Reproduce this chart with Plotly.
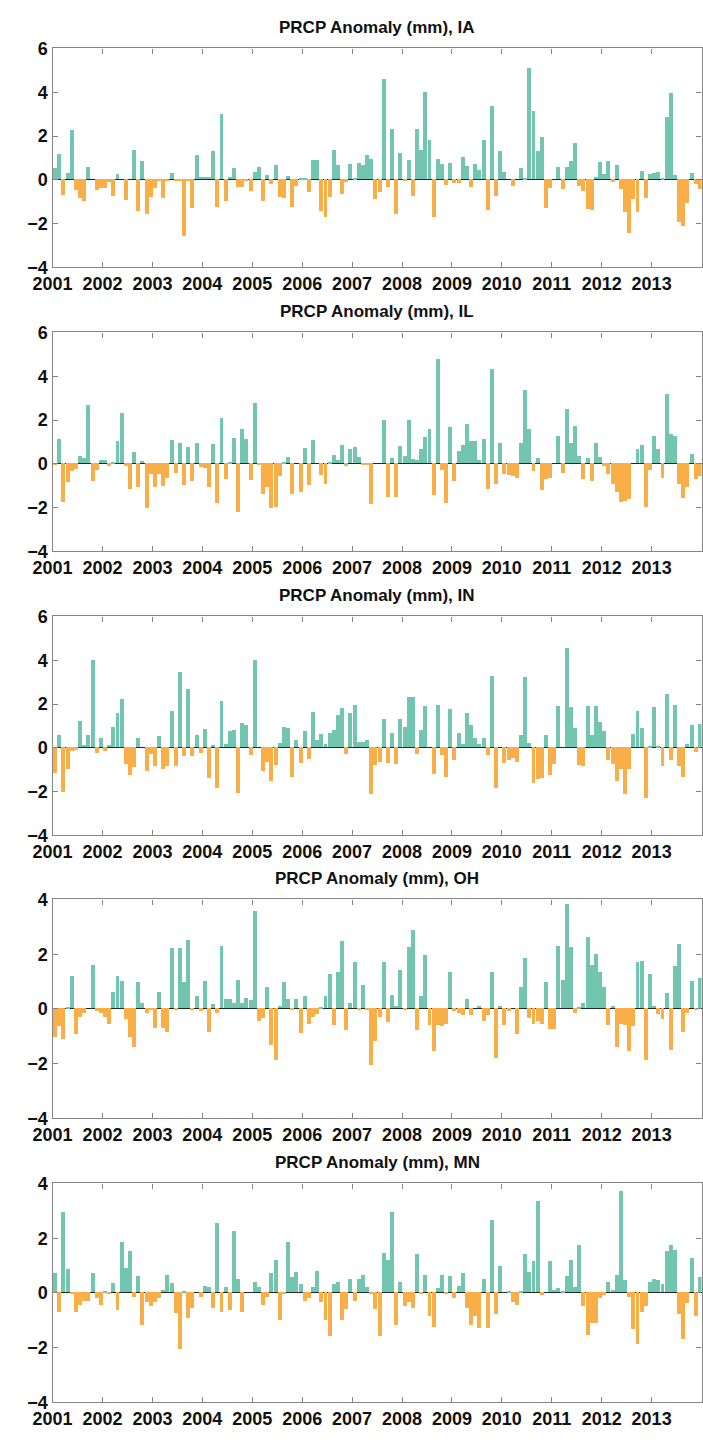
import plotly.graph_objects as go

# ---------------- data (monthly precipitation anomaly, mm) ----------------
years = list(range(2001, 2014))
year_labels = [str(y) for y in years]
states = ["IA", "IL", "IN", "OH", "MN"]

IA = [
    0.5, 1.15, -0.7, 0.3, 2.25, -0.5, -0.85, -1.0, 0.55, 0.0, -0.5, -0.4,
    -0.4, -0.1, -0.75, 0.25, 0.0, -0.95, 0.0, 1.35, -1.45, 0.85, -1.6, -0.8,
    -0.4, -0.05, -0.85, -0.05, 0.3, -0.05, -0.05, -2.6, -0.05, -1.3, 1.1, 0.1,
    0.1, 0.1, 1.3, -1.25, 3.0, -1.0, 0.1, 0.5, -0.35, -0.35, -0.05, -0.55,
    0.35, 0.55, -1.0, 0.2, -0.2, 0.65, -0.8, -0.85, 0.15, -1.25, -0.3, 0.05,
    0.05, -0.6, 0.9, 0.9, -1.45, -1.7, -0.8, 1.35, 0.65, -0.65, -0.1, 0.7,
    0.05, 0.75, 0.65, 1.1, 0.95, -0.9, -0.6, 4.6, -0.35, 2.3, -1.6, 1.2,
    -0.05, 0.9, -0.75, 2.3, 1.35, 4.0, 1.8, -1.7, 0.95, 0.7, -0.25, 0.75,
    -0.15, -0.15, 1.0, 0.6, -0.35, 0.7, 0.45, 1.8, -1.4, 3.35, -0.75, 1.3,
    0.35, 0.0, -0.3, 0.0, 0.5, 0.05, 5.1, 3.1, 1.3, 1.95, -1.3, -0.4,
    0.0, 0.55, -0.45, 0.55, 0.85, 1.65, -0.3, -0.55, -1.35, -1.4, 0.1, 0.8,
    0.25, 0.85, -0.1, 0.65, -0.45, -1.5, -2.45, -0.9, -1.5, 0.4, -0.85, 0.25,
    0.3, 0.35, 0.05, 2.85, 3.95, 0.2, -1.95, -2.15, -1.1, 0.3, -0.2, -0.45,
]

IL = [
    -0.05, 1.1, -1.75, -0.85, -0.35, -0.25, 0.35, 0.25, 2.65, -0.8, -0.3, 0.15,
    0.15, -0.1, 0.05, 1.0, 2.3, -0.1, -1.15, 0.5, -1.1, 0.1, -2.05, -0.5,
    -1.1, -0.5, -1.05, -0.65, 1.05, -0.45, 0.95, -1.0, 0.75, -0.8, 0.95, -0.15,
    -0.2, -1.1, 0.9, -1.8, 2.05, -0.7, 0.05, 1.15, -2.2, 1.55, 1.1, -0.75,
    2.75, -0.05, -1.4, -1.1, -2.05, -2.0, -0.6, 0.05, 0.3, -1.4, 0.0, -1.3,
    0.7, -1.0, 1.05, 0.0, -0.55, -0.95, 0.05, 0.4, 0.15, 0.85, -0.1, 0.65,
    0.75, 0.3, -0.05, -0.05, -1.85, 0.0, 0.0, 2.0, -1.55, 0.25, -1.55, 0.8,
    0.35, 2.0, 0.2, 0.15, 0.65, 1.2, 1.55, -1.45, 4.75, -0.3, -1.8, 1.65,
    -0.8, 0.55, 0.85, 1.8, 1.0, 1.0, 0.15, 1.1, -1.15, 4.3, -0.95, 0.95,
    -0.5, -0.55, -0.6, -0.65, 0.95, 3.35, 1.55, -0.35, 0.25, -1.2, -0.7, -0.65,
    0.0, 1.25, -0.45, 2.5, 0.95, 1.7, 0.35, -0.7, 0.25, -0.8, 0.95, 0.3,
    -0.1, -0.5, -0.95, -1.3, -1.75, -1.7, -1.65, 0.0, 0.65, 0.85, -2.0, -0.3,
    1.25, 0.65, -0.65, 3.15, 1.35, 1.25, -0.95, -1.6, -1.1, 0.45, -0.7, -0.6,
]

IN = [
    -1.15, 0.55, -2.05, -1.0, -0.15, -0.1, 1.2, 0.1, 0.55, 4.0, -0.25, 0.45,
    -0.15, 0.1, 0.95, 1.55, 2.2, -0.75, -1.25, -0.9, 0.45, 0.0, -1.1, -0.3,
    -0.85, 0.5, -1.0, -0.85, 1.65, -0.85, 3.45, -0.4, 2.65, -0.4, 0.55, -0.25,
    0.85, -1.4, 0.1, -1.85, 2.1, 0.15, 0.75, 0.8, -2.1, 1.1, 1.0, -0.35,
    4.0, 0.0, -1.1, -0.65, -1.55, -0.8, 0.2, 0.95, 0.9, -1.35, 0.35, -0.7,
    0.75, -0.55, 1.6, 0.35, 0.6, 0.15, 0.65, 0.8, 1.5, 1.8, -0.3, 1.55,
    1.95, 0.25, 0.25, 0.35, -2.15, -0.8, -0.65, 1.3, -0.7, 0.65, -0.75, 1.3,
    0.95, 2.3, 2.3, -0.3, 0.8, 1.9, 0.0, -1.2, 1.95, -0.35, -1.35, 1.75,
    -0.6, 0.65, 0.15, 1.55, 1.0, 0.45, 0.15, 0.45, -0.35, 3.25, -1.85, 0.0,
    -0.7, -0.6, -0.5, -0.65, 0.55, 3.2, 0.2, -1.65, -1.45, -1.4, 0.55, -1.25,
    -0.75, 1.9, 0.0, 4.55, 1.85, 0.9, -0.8, -0.85, 1.9, 0.55, 1.9, 1.15,
    0.75, -0.6, -0.75, -1.55, -1.0, -2.15, -1.0, 0.6, 1.65, 0.9, -2.3, 0.05,
    1.85, 0.05, -0.85, 2.45, -0.6, 1.95, -0.85, -1.35, 0.15, 1.0, -0.2, 1.05,
]

OH = [
    -1.05, -0.65, -1.1, 0.05, 1.2, -0.95, -0.3, -0.15, 0.0, 1.6, -0.1, -0.15,
    -0.3, -0.55, 0.6, 1.2, 1.0, -0.4, -1.05, -1.4, 0.95, 0.2, -0.15, -0.05,
    -0.7, 0.6, -0.7, -0.85, 2.2, -0.05, 2.2, 0.95, 2.5, -0.05, 0.45, -0.1,
    1.0, -0.85, 0.15, -0.15, 2.3, 0.35, 0.35, 0.2, 1.05, 0.2, 0.4, 0.3,
    3.55, -0.45, -0.35, 0.8, -1.35, -1.9, 0.1, 0.95, 0.35, -0.05, 0.35, -0.9,
    0.45, -0.55, -0.3, -0.2, 0.05, 0.45, 1.25, -0.6, 1.35, 2.45, -0.8, 0.2,
    1.7, -0.05, 0.85, -0.05, -2.05, -1.2, -0.3, 1.7, -0.5, 0.5, 0.1, 1.4,
    -0.05, 2.25, 2.85, -0.8, 0.45, 1.95, -0.6, -1.55, -0.6, -0.65, -0.55, 1.35,
    -0.1, -0.15, -0.25, 0.35, -0.25, 0.0, 0.1, -0.45, -0.25, 1.35, -1.8, 0.1,
    -0.6, -0.1, 0.0, -0.95, 0.8, 1.85, -0.35, -0.55, -0.45, -0.55, 0.95, -0.75,
    -0.75, 2.3, 1.05, 3.8, 2.25, -0.15, 0.05, 0.2, 2.6, 1.6, 2.0, 1.35,
    0.8, -0.6, 0.1, -1.4, -0.55, -0.6, -1.55, -0.65, 1.7, 1.75, -1.9, 1.25,
    0.1, -0.2, -0.4, 0.55, -1.5, 1.55, 2.35, -0.85, -0.15, 1.0, -0.05, 1.1,
]

MN = [
    0.7, -0.7, 2.95, 0.85, -0.05, -0.7, -0.45, -0.3, -0.3, 0.7, -0.2, -0.45,
    0.05, -0.05, 0.35, -0.65, 1.85, 0.9, 1.5, -0.15, 0.6, -1.2, -0.35, -0.5,
    -0.35, -0.2, 0.1, 0.65, 0.35, -0.75, -2.05, 0.02, -0.95, -0.55, 0.0, -0.15,
    0.25, 0.2, -0.55, 2.55, -0.7, 0.2, -0.65, 2.25, 0.5, -0.7, 0.0, 0.0,
    0.4, 0.2, -0.45, -0.15, 0.7, 1.2, -1.0, -0.05, 1.85, 0.55, 0.75, 0.3,
    -0.3, -0.2, 0.2, 0.8, -0.35, -1.0, -1.6, 0.3, 0.4, -1.0, -0.6, 0.5,
    -0.3, 0.5, 0.65, 0.2, -0.05, -0.6, -1.6, 1.45, 1.2, 2.95, -1.2, 0.4,
    -0.5, -0.35, -0.55, 1.4, -0.05, 0.65, -0.85, -1.25, 0.15, 0.65, -0.05, 0.6,
    -0.2, 0.25, 0.7, -0.55, -1.2, -0.85, -1.3, 0.5, -1.3, 2.65, -0.8, 0.95,
    0.0, 0.02, -0.35, -0.45, 0.05, 1.4, 0.75, 1.15, 3.35, -0.1, 0.0, 1.15,
    0.1, 0.15, 0.05, 0.6, 1.2, 0.2, 1.75, -0.5, -1.55, -1.1, -1.1, -0.2,
    -0.1, 0.4, 0.1, 0.65, 3.7, 0.45, -0.15, -1.35, -1.9, -0.7, -0.5, 0.4,
    0.5, 0.45, 0.3, 1.5, 1.75, 1.55, -0.8, -1.7, -0.4, 1.25, -0.85, 0.55,
]

series = [IA, IL, IN, OH, MN]
y_ranges = [[-4, 6], [-4, 6], [-4, 6], [-4, 4], [-4, 4]]

# ---------------- styling / layout ----------------
W, H = 703, 1442
GREEN = "#72c6af"
ORANGE = "#f9ae48"
AXIS = "#858585"
FONT = "Liberation Sans, Arial, sans-serif"

panel_tops = [39, 327, 615, 902, 1190]
panel_h = 222
x_left, x_right = 33.5 / W, 701.5 / W

# decimal-year position of each month (bar centres)
months = [y + (m + 0.5) / 12 for y in years for m in range(12)]

fig = go.Figure()
annotations = []
layout_axes = {}
for i, (st, vals, yr) in enumerate(zip(states, series, y_ranges)):
    n = i + 1
    xa = "x" if n == 1 else f"x{n}"
    ya = "y" if n == 1 else f"y{n}"
    colors = [GREEN if v >= 0 else ORANGE for v in vals]
    fig.add_trace(go.Bar(
        x=months, y=vals, xaxis=xa, yaxis=ya,
        width=0.95 / 12, marker=dict(color=colors, line=dict(width=0)),
        showlegend=False, hoverinfo="x+y",
    ))
    top = panel_tops[i]
    dom = [1 - (top + panel_h) / H, 1 - top / H]
    xkey = "xaxis" if n == 1 else f"xaxis{n}"
    ykey = "yaxis" if n == 1 else f"yaxis{n}"
    layout_axes[xkey] = dict(
        domain=[x_left, x_right], anchor=ya, range=[2001, 2014],
        tickmode="array", tickvals=years, ticktext=year_labels,
        ticks="inside", ticklen=5, tickwidth=1, tickcolor=AXIS,
        showline=True, linecolor=AXIS, linewidth=1.2, mirror="ticks",
        showgrid=False, zeroline=False,
        tickfont=dict(family=FONT, size=18, color="#111", weight="bold"),
        fixedrange=True,
    )
    layout_axes[ykey] = dict(
        domain=dom, anchor=xa, range=yr,
        tickmode="linear", tick0=-4, dtick=2,
        ticks="inside", ticklen=5, tickwidth=1, tickcolor=AXIS,
        showline=True, linecolor=AXIS, linewidth=1.2, mirror="ticks",
        showgrid=False, zeroline=True, zerolinecolor="#1e2a24", zerolinewidth=1.2,
        tickfont=dict(family=FONT, size=18, color="#111", weight="bold"),
        fixedrange=True,
    )
    annotations.append(dict(
        text=f"PRCP Anomaly (mm), {st}",
        xref="paper", yref="paper",
        x=(x_left + x_right) / 2, y=1 - (top - 21) / H,
        xanchor="center", yanchor="middle", showarrow=False,
        font=dict(family=FONT, size=17, color="#111", weight="bold"),
    ))

fig.update_layout(
    width=W, height=H,
    margin=dict(l=0, r=0, t=0, b=0),
    paper_bgcolor="white", plot_bgcolor="white",
    bargap=0, annotations=annotations,
    **layout_axes,
)

fig.write_html("out.html", config={"displayModeBar": False})
